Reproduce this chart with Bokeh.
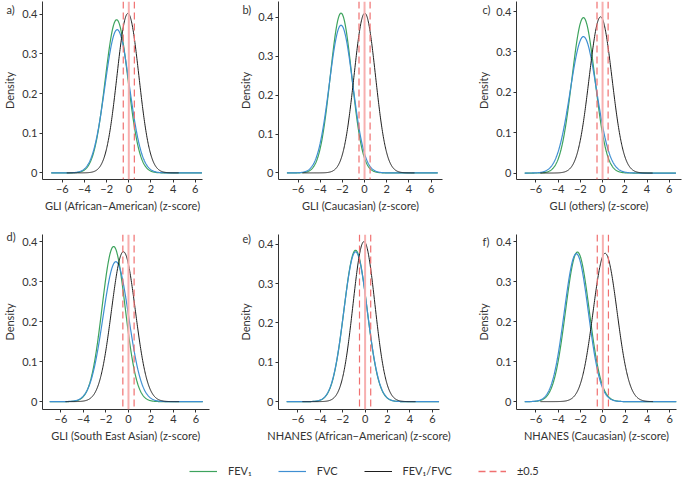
import numpy as np
from bokeh.plotting import figure
from bokeh.layouts import column, row
from bokeh.models import Range1d, FixedTicker, Span, Legend, LegendItem
from bokeh.embed import file_html
from bokeh.resources import INLINE

# ---------------- data ----------------
panel_tags = ["a)", "b)", "c)", "d)", "e)", "f)"]
x_titles = [
    "GLI (African\u2212American) (z-score)",
    "GLI (Caucasian) (z-score)",
    "GLI (others) (z-score)",
    "GLI (South East Asian) (z-score)",
    "NHANES (African\u2212American) (z-score)",
    "NHANES (Caucasian) (z-score)",
]
series_names = ["FEV\u2081", "FVC", "FEV\u2081/FVC"]
cutoff_name = "\u00b10.5"

# location (mode, z-score) and peak height (density) of each fitted curve
fev1_mode = [-1.10, -2.12, -1.72, -1.32, -0.85, -2.28]
fev1_peak = [0.386, 0.411, 0.385, 0.388, 0.385, 0.374]
fvc_mode = [-1.05, -2.12, -1.72, -1.12, -0.85, -2.38]
fvc_peak = [0.361, 0.380, 0.338, 0.350, 0.381, 0.370]
ratio_mode = [-0.08, 0.02, -0.18, -0.45, -0.10, 0.20]
ratio_peak = [0.402, 0.411, 0.387, 0.375, 0.407, 0.371]

# z-score span covered by each curve
spiro_span = [-7.0, 6.6]
ratio_span = [-5.6, 4.5]
cutoffs = [-0.5, 0.5]
zero_line = [0.0]

x_ticks = [-6, -4, -2, 0, 2, 4, 6]
y_ticks = [0, 0.1, 0.2, 0.3, 0.4]

# ---------------- styling / layout ----------------
FONT = "Lato"
FS = "11px"
TXT = "#333333"
C_FEV1 = "#3da35d"
C_FVC = "#3f8fd2"
C_RATIO = "#1e1e1e"
C_CUT = "#f07070"
C_ZERO = "#f7b0b0"

x_lims = [(-7.79, 6.65), (-7.76, 7.03), (-7.74, 7.10),
          (-7.64, 7.20), (-7.73, 6.64), (-7.74, 6.60)]
y_lims = [(-0.0167, 0.432), (-0.017, 0.441), (-0.016, 0.425),
          (-0.0197, 0.418), (-0.020, 0.425), (-0.0197, 0.418)]
frame_w = [160, 164, 165, 167, 161, 160]
border_r = [34, 32, 4, 27, 35, 9]
frame_h = [178, 178, 178, 175, 175, 175]
border_t = [1, 1, 1, 20, 20, 20]
border_b = 33
tag_x = [0, 0, 2, 0, 0, 2]
tag_standoff = [-28, -28, -29, -16, -21, -27]


def density(mode, peak, span):
    sd = 1.0 / (peak * np.sqrt(2 * np.pi))
    x = np.linspace(span[0], span[1], 400)
    return x, peak * np.exp(-0.5 * ((x - mode) / sd) ** 2)


def style_axis(ax):
    ax.axis_line_color = TXT
    ax.major_tick_line_color = TXT
    ax.minor_tick_line_color = None
    ax.major_tick_out = 3
    ax.major_tick_in = 0
    ax.major_label_standoff = 2
    ax.axis_label_standoff = 3
    ax.major_label_text_font = FONT
    ax.major_label_text_font_size = FS
    ax.major_label_text_color = TXT
    ax.axis_label_text_font = FONT
    ax.axis_label_text_font_size = FS
    ax.axis_label_text_color = TXT
    ax.axis_label_text_font_style = "normal"


figs = []
for i in range(6):
    p = figure(frame_width=frame_w[i], frame_height=frame_h[i],
               min_border_left=36, min_border_right=border_r[i],
               min_border_top=border_t[i], min_border_bottom=border_b,
               x_range=Range1d(*x_lims[i]), y_range=Range1d(*y_lims[i]),
               output_backend="svg", toolbar_location=None, tools="")
    p.outline_line_color = None
    p.grid.visible = False
    p.background_fill_color = "white"
    p.border_fill_color = "white"

    x, y = density(fev1_mode[i], fev1_peak[i], spiro_span)
    p.line(x, y, line_color=C_FEV1, line_width=1.2)
    x, y = density(fvc_mode[i], fvc_peak[i], spiro_span)
    p.line(x, y, line_color=C_FVC, line_width=1.2)
    x, y = density(ratio_mode[i], ratio_peak[i], ratio_span)
    p.line(x, y, line_color=C_RATIO, line_width=1.0)

    for z in zero_line:
        p.add_layout(Span(location=z, dimension="height", line_color=C_ZERO, line_width=2))
    for c in cutoffs:
        p.add_layout(Span(location=c, dimension="height", line_color=C_CUT,
                          line_width=1.2, line_dash="7 4"))

    p.xaxis.ticker = FixedTicker(ticks=x_ticks)
    p.xaxis.major_label_overrides = {t: str(t).replace("-", "\u2212") for t in x_ticks}
    p.yaxis.ticker = FixedTicker(ticks=y_ticks)
    p.yaxis.major_label_overrides = {t: ("0" if t == 0 else f"{t:.1f}") for t in y_ticks}
    p.xaxis.axis_label = x_titles[i]
    p.yaxis.axis_label = "Density"
    style_axis(p.xaxis[0])
    style_axis(p.yaxis[0])

    # panel tag drawn as the plot title, pulled into the top-left corner
    p.title.text = panel_tags[i]
    p.title.align = "left"
    p.title.offset = -36 + tag_x[i]
    p.title.standoff = tag_standoff[i]
    p.title.text_font = FONT
    p.title.text_font_size = FS
    p.title.text_font_style = "normal"
    p.title.text_color = TXT
    figs.append(p)

# legend strip
lg = figure(width=667, height=34, x_range=Range1d(0, 1), y_range=Range1d(0, 1),
            output_backend="svg", toolbar_location=None, tools="",
            min_border=0)
lg.outline_line_color = None
lg.grid.visible = False
lg.axis.visible = False
off = [5, 6]  # keys drawn outside the visible range; only their legend swatches show
r1 = lg.line(off, off, line_color=C_FEV1, line_width=1.2)
r2 = lg.line(off, off, line_color=C_FVC, line_width=1.2)
r3 = lg.line(off, off, line_color=C_RATIO, line_width=1.0)
r4 = lg.line(off, off, line_color=C_CUT, line_width=1.3, line_dash="7 4")
legend = Legend(items=[LegendItem(label=series_names[0], renderers=[r1]),
                       LegendItem(label=series_names[1], renderers=[r2]),
                       LegendItem(label=series_names[2], renderers=[r3]),
                       LegendItem(label=cutoff_name, renderers=[r4])],
                orientation="horizontal", location=(189, 1),
                glyph_width=28, glyph_height=12, label_height=12, label_width=16,
                label_standoff=11, spacing=26, padding=0, margin=0,
                border_line_color=None, background_fill_alpha=0,
                label_text_font=FONT, label_text_font_size=FS,
                label_text_color=TXT)
lg.add_layout(legend, "center")

layout = column(row(*figs[:3]), row(*figs[3:]), lg)

with open("out.html", "w") as f:
    f.write(file_html(layout, INLINE))
